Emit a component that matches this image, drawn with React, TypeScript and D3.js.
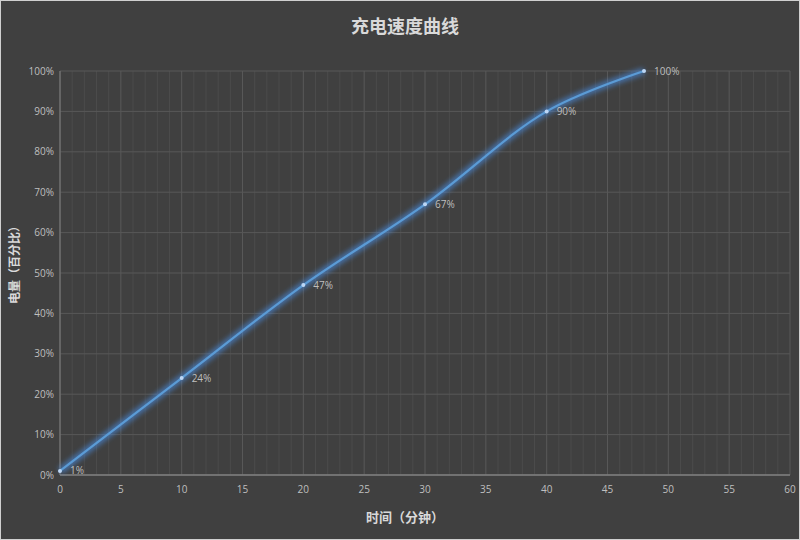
import * as d3 from "d3";
import { useEffect, useRef } from "react";

const minutes = [0, 10, 20, 30, 40, 48];
const charge = [1, 24, 47, 67, 90, 100];
const xTicks = [0, 5, 10, 15, 20, 25, 30, 35, 40, 45, 50, 55, 60];
const yTicks = [0, 10, 20, 30, 40, 50, 60, 70, 80, 90, 100];

const title = "充电速度曲线";
const xTitle = "时间（分钟）";
const yTitle = "电量（百分比）";

export default function App() {
  const ref = useRef<SVGSVGElement>(null);

  useEffect(() => {
    document.body.style.margin = "0";
    if (!ref.current) return;
    const width = 800;
    const height = 540;
    const margin = { top: 71, right: 10, bottom: 65, left: 60 };
    const innerW = width - margin.left - margin.right;
    const innerH = height - margin.top - margin.bottom;

    const svg = d3.select(ref.current);
    svg.selectAll("*").remove();
    svg.attr("width", width).attr("height", height);

    const defs = svg.append("defs");
    const glow = defs
      .append("filter")
      .attr("id", "glow")
      .attr("x", "-10%")
      .attr("y", "-10%")
      .attr("width", "120%")
      .attr("height", "120%");
    glow.append("feGaussianBlur").attr("stdDeviation", 2.8).attr("result", "blur");

    svg
      .append("rect")
      .attr("x", 0.5)
      .attr("y", 0.5)
      .attr("width", width - 1)
      .attr("height", height - 1)
      .attr("fill", "#404040")
      .attr("stroke", "#d0d0d0");

    const g = svg.append("g").attr("transform", `translate(${margin.left},${margin.top})`);

    const x = d3.scaleLinear().domain([0, 60]).range([0, innerW]);
    const y = d3.scaleLinear().domain([0, 100]).range([innerH, 0]);

    // minor vertical grid, one per minute
    g.append("g")
      .selectAll("line")
      .data(d3.range(0, 61).filter((m) => m % 5 !== 0))
      .join("line")
      .attr("x1", (d) => x(d))
      .attr("x2", (d) => x(d))
      .attr("y1", 0)
      .attr("y2", innerH)
      .attr("stroke", "#4b4b4b")
      .attr("stroke-width", 1);

    g.append("g")
      .selectAll("line")
      .data(xTicks)
      .join("line")
      .attr("x1", (d) => x(d))
      .attr("x2", (d) => x(d))
      .attr("y1", 0)
      .attr("y2", innerH)
      .attr("stroke", "#585858");

    g.append("g")
      .selectAll("line")
      .data(yTicks)
      .join("line")
      .attr("x1", 0)
      .attr("x2", innerW)
      .attr("y1", (d) => y(d))
      .attr("y2", (d) => y(d))
      .attr("stroke", "#585858");

    // axis lines
    g.append("line")
      .attr("x1", 0)
      .attr("x2", 0)
      .attr("y1", 0)
      .attr("y2", innerH)
      .attr("stroke", "#7f7f7f");
    g.append("line")
      .attr("x1", 0)
      .attr("x2", innerW)
      .attr("y1", innerH)
      .attr("y2", innerH)
      .attr("stroke", "#7f7f7f")
      .attr("stroke-width", 1.5);

    const tickFont = "'Open Sans', 'Noto Sans', sans-serif";
    g.append("g")
      .selectAll("text")
      .data(xTicks)
      .join("text")
      .attr("x", (d) => x(d))
      .attr("y", innerH + 18)
      .attr("text-anchor", "middle")
      .attr("fill", "#bfbfbf")
      .style("font-family", tickFont)
      .style("font-size", "10px")
      .text((d) => d);

    g.append("g")
      .selectAll("text")
      .data(yTicks)
      .join("text")
      .attr("x", -6)
      .attr("y", (d) => y(d))
      .attr("dy", "0.35em")
      .attr("text-anchor", "end")
      .attr("fill", "#bfbfbf")
      .style("font-family", tickFont)
      .style("font-size", "10px")
      .text((d) => `${d}%`);

    const pts = minutes.map((m, i) => [m, charge[i]] as [number, number]);
    const line = d3
      .line<[number, number]>()
      .x((d) => x(d[0]))
      .y((d) => y(d[1]))
      .curve(d3.curveCatmullRom.alpha(0.5));

    g.append("path")
      .attr("d", line(pts))
      .attr("fill", "none")
      .attr("stroke", "#4a8fe8")
      .attr("stroke-width", 7)
      .attr("stroke-opacity", 0.6)
      .attr("filter", "url(#glow)");
    g.append("path")
      .attr("d", line(pts))
      .attr("fill", "none")
      .attr("stroke", "#5b9bd5")
      .attr("stroke-width", 2.2);

    g.append("g")
      .selectAll("circle")
      .data(pts)
      .join("circle")
      .attr("cx", (d) => x(d[0]))
      .attr("cy", (d) => y(d[1]))
      .attr("r", 2)
      .attr("fill", "#bcd6f5");

    g.append("g")
      .selectAll("text")
      .data(pts)
      .join("text")
      .attr("x", (d) => x(d[0]) + 10)
      .attr("y", (d) => y(d[1]))
      .attr("dy", "0.35em")
      .attr("fill", "#bfbfbf")
      .style("font-family", tickFont)
      .style("font-size", "10px")
      .text((d) => `${d[1]}%`);

    const cjk = "'Noto Sans CJK SC', sans-serif";
    svg
      .append("text")
      .attr("x", 405)
      .attr("y", 33)
      .attr("text-anchor", "middle")
      .attr("fill", "#d9d9d9")
      .style("font-family", cjk)
      .style("font-size", "18px")
      .style("font-weight", "bold")
      .text(title);

    svg
      .append("text")
      .attr("x", 405)
      .attr("y", 522)
      .attr("text-anchor", "middle")
      .attr("fill", "#d9d9d9")
      .style("font-family", cjk)
      .style("font-size", "13px")
      .style("font-weight", "bold")
      .text(xTitle);

    svg
      .append("text")
      .attr("transform", `translate(19,262) rotate(-90)`)
      .attr("text-anchor", "middle")
      .attr("fill", "#d9d9d9")
      .style("font-family", cjk)
      .style("font-size", "12px")
      .style("font-weight", "bold")
      .text(yTitle);
  }, []);

  return <svg ref={ref} style={{ display: "block" }} />;
}
